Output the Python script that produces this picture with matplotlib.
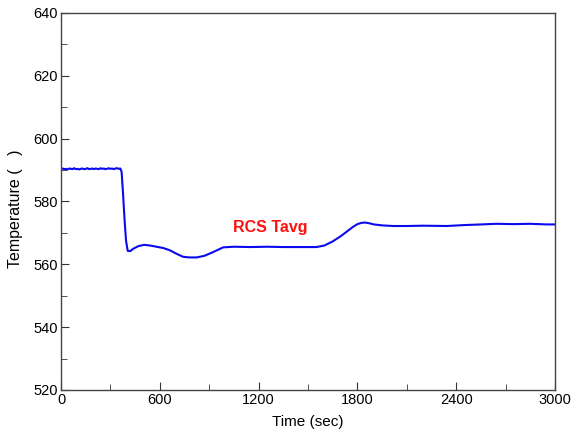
import matplotlib
matplotlib.use("Agg")
import matplotlib.pyplot as plt
from matplotlib.ticker import MultipleLocator

plt.rcParams['font.family'] = ['Liberation Sans', 'DejaVu Sans']

# RCS average temperature transient
time_s = [0, 10, 20, 30, 40, 50, 60, 70, 80, 90, 100, 110, 120, 130, 140, 150, 160,
          170, 180, 190, 200, 210, 220, 230, 240, 250, 260, 270, 280, 290, 300, 310,
          320, 330, 340, 350, 360, 368, 375, 385, 395, 405, 420, 440, 470, 504, 540,
          580, 620, 660, 700, 741, 780, 824, 870, 920, 985, 1050, 1150, 1250, 1350,
          1450, 1552, 1600, 1650, 1700, 1735, 1770, 1800, 1825, 1846, 1870, 1900,
          1950, 2016, 2100, 2200, 2342, 2450, 2550, 2645, 2750, 2850, 2950, 3000]
tavg = [590.3, 590.5, 590.3, 590.4, 590.2, 590.5, 590.4, 590.3, 590.6, 590.3, 590.4,
        590.2, 590.4, 590.5, 590.3, 590.4, 590.6, 590.3, 590.4, 590.5, 590.3, 590.5,
        590.4, 590.3, 590.6, 590.4, 590.5, 590.3, 590.4, 590.6, 590.4, 590.5, 590.3,
        590.5, 590.6, 590.4, 590.5, 589.5, 584.0, 575.0, 567.5, 564.3, 564.2, 565.0,
        565.8, 566.2, 566.0, 565.6, 565.2, 564.5, 563.4, 562.4, 562.2, 562.2, 562.7,
        563.8, 565.4, 565.6, 565.5, 565.6, 565.5, 565.5, 565.5, 566.0, 567.3, 569.0,
        570.4, 571.8, 572.8, 573.2, 573.3, 573.1, 572.7, 572.4, 572.2, 572.2, 572.3,
        572.2, 572.5, 572.7, 572.9, 572.8, 572.9, 572.7, 572.7]

x_ticks = [0, 600, 1200, 1800, 2400, 3000]
y_ticks = [520, 540, 560, 580, 600, 620, 640]

fig = plt.figure(figsize=(5.76, 4.38), dpi=100)
ax = fig.add_axes([61 / 576, 1 - 390 / 438, 494 / 576, 377 / 438])

ax.plot(time_s, tavg, color='#0a0aee', linewidth=1.5)

ax.set_xlim(0, 3000)
ax.set_ylim(520, 640)
ax.set_xticks(x_ticks)
ax.set_yticks(y_ticks)
ax.xaxis.set_minor_locator(MultipleLocator(300))
ax.yaxis.set_minor_locator(MultipleLocator(10))
ax.tick_params(which='both', direction='in', top=False, right=False,
               labelsize=10.5, pad=2, color='#333333')
ax.tick_params(which='major', length=6)
ax.tick_params(which='minor', length=4)
for s in ax.spines.values():
    s.set_color('#444444')
    s.set_linewidth(1.0)

ax.set_xlabel('Time (sec)', fontsize=11, labelpad=6)
ax.set_ylabel('Temperature (   )', fontsize=11.5)
ax.yaxis.set_label_coords(-0.076, 0.481)

ax.text(1044, 571.6, 'RCS Tavg', color='#ff1010', fontsize=11.5,
        fontweight='bold', ha='left', va='center')

fig.savefig('out.png', dpi=100)
